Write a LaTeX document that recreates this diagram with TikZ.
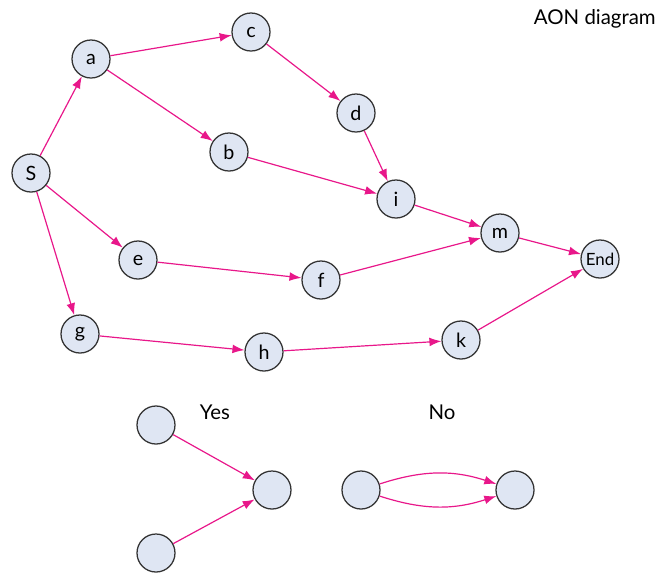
\documentclass[tikz,border=0pt]{standalone}
\usepackage{fontspec}
\setmainfont{Lato}
\usepackage{tikz}
\usetikzlibrary{arrows.meta}
\definecolor{actfill}{HTML}{DFE6F3}
\definecolor{linkpink}{HTML}{E8178A}

\begin{document}
\begin{tikzpicture}[x=0.025cm, y=-0.025cm,
    act/.style={draw=black!80, fill=actfill, circle, line width=0.9pt, minimum size=0.95cm, inner sep=0pt, font=\fontsize{14}{16}\selectfont},
    link/.style={draw=linkpink, line width=0.85pt, -{Latex[length=3mm, width=2.2mm]}}]
    \useasboundingbox (0,0) rectangle (656,575);

    \node[act] (s) at (31,173) {S};
    \node[act] (a) at (91,59) {a};
    \node[act] (c) at (251,32) {c};
    \node[act] (b) at (229,152) {b};
    \node[act] (d) at (356,113) {d};
    \node[act] (i) at (396,199) {i};
    \node[act] (m) at (500,233) {m};
    \node[act, font=\fontsize{12}{14}\selectfont] (end) at (600,259) {End};
    \node[act] (e) at (138,260) {e};
    \node[act] (f) at (321,280) {f};
    \node[act] (g) at (80,334) {g};
    \node[act] (h) at (264,352) {h};
    \node[act] (k) at (461,340) {k};

    \draw[link] (s) -- (a);
    \draw[link] (s) -- (e);
    \draw[link] (s) -- (g);
    \draw[link] (a) -- (c);
    \draw[link] (a) -- (b);
    \draw[link] (c) -- (d);
    \draw[link] (d) -- (i);
    \draw[link] (b) -- (i);
    \draw[link] (i) -- (m);
    \draw[link] (e) -- (f);
    \draw[link] (f) -- (m);
    \draw[link] (m) -- (end);
    \draw[link] (g) -- (h);
    \draw[link] (h) -- (k);
    \draw[link] (k) -- (end);

    \node[anchor=east, inner sep=0pt, font=\fontsize{14.5}{17}\selectfont] (title) at (656,19) {AON diagram};

    % merge allowed / parallel not allowed
    \node[font=\fontsize{14.5}{17}\selectfont] (yes) at (215,412) {Yes};
    \node[font=\fontsize{14.5}{17}\selectfont] (no) at (442,412) {No};

    \node[act] (y1) at (156,425) {};
    \node[act] (y2) at (156,553) {};
    \node[act] (y3) at (272,490) {};
    \draw[link] (y1) -- (y3);
    \draw[link] (y2) -- (y3);

    \node[act] (n1) at (361,490) {};
    \node[act] (n2) at (515,490) {};
    \draw[link] (n1) to[bend left=18] (n2);
    \draw[link] (n1) to[bend right=18] (n2);
\end{tikzpicture}
\end{document}
